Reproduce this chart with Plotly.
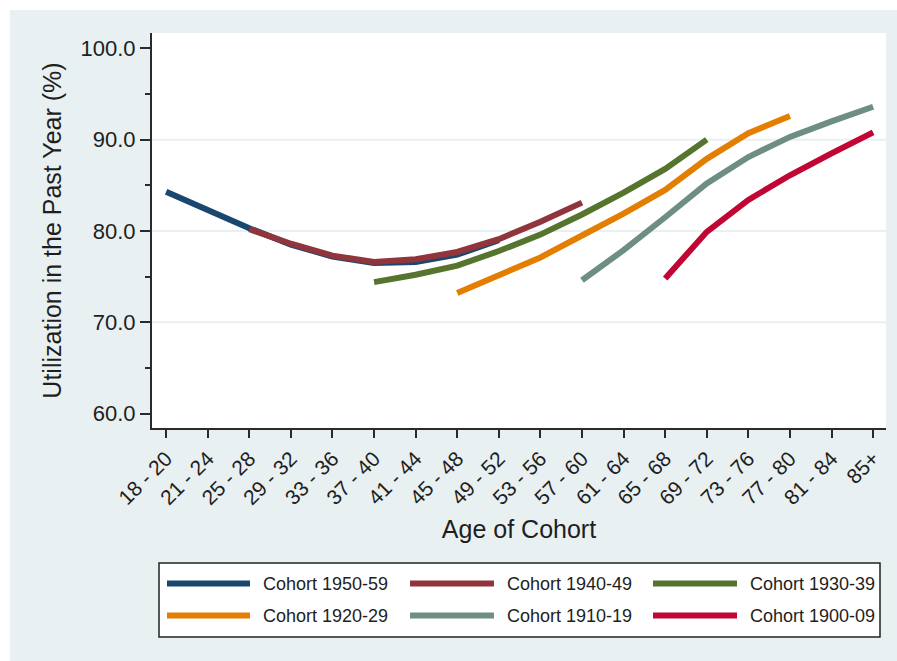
import plotly.graph_objects as go

# ---------------- data ----------------
AGE_GROUPS = ["18 - 20", "21 - 24", "25 - 28", "29 - 32", "33 - 36", "37 - 40",
              "41 - 44", "45 - 48", "49 - 52", "53 - 56", "57 - 60", "61 - 64",
              "65 - 68", "69 - 72", "73 - 76", "77 - 80", "81 - 84", "85+"]

COHORT_NAMES = ["Cohort 1950-59", "Cohort 1940-49", "Cohort 1930-39",
                "Cohort 1920-29", "Cohort 1910-19", "Cohort 1900-09"]

# first age group index of each cohort
COHORT_START = [0, 2, 5, 7, 10, 12]

cohort_1950_59 = [84.3, 82.3, 80.3, 78.5, 77.2, 76.5, 76.6, 77.4, 79.0]
cohort_1940_49 = [80.2, 78.6, 77.3, 76.6, 76.9, 77.7, 79.1, 81.0, 83.1]
cohort_1930_39 = [74.4, 75.2, 76.2, 77.8, 79.6, 81.8, 84.2, 86.8, 90.0]
cohort_1920_29 = [73.2, 75.1, 77.1, 79.5, 81.9, 84.5, 87.9, 90.7, 92.6]
cohort_1910_19 = [74.6, 77.9, 81.5, 85.2, 88.1, 90.3, 92.0, 93.6]
cohort_1900_09 = [74.8, 79.9, 83.4, 86.1, 88.5, 90.8]

COHORT_VALUES = [cohort_1950_59, cohort_1940_49, cohort_1930_39,
                 cohort_1920_29, cohort_1910_19, cohort_1900_09]

Y_TICKS = [60, 70, 80, 90, 100]
Y_MINOR = [65, 75, 85, 95]
GRID_VALUES = [70, 80, 90]

# ---------------- style ----------------
COLORS = ["#1A476F", "#90353B", "#55752F", "#E37E00", "#6E8E84", "#C10534"]
FONT = "Arial, 'Liberation Sans', Helvetica, sans-serif"
BG = "rgb(232,240,242)"
AXIS_COLOR = "#2a2a2a"
TEXT_COLOR = "#1e1e1e"

W, H = 897, 661
L, R, T, B = 152, 886, 33, 428


def px(x):
    return (x - L) / (R - L)


def py(y):
    return (B - y) / (B - T)


fig = go.Figure()

for name, start, vals, col in zip(COHORT_NAMES, COHORT_START, COHORT_VALUES, COLORS):
    fig.add_trace(go.Scatter(
        x=AGE_GROUPS[start:start + len(vals)],
        y=vals,
        mode="lines",
        name=name,
        line=dict(color=col, width=6),
        showlegend=False,
    ))

shapes = []
# outer white frame strips (top & left)
shapes.append(dict(type="rect", xref="paper", yref="paper",
                   x0=px(0), x1=px(W), y0=py(10), y1=py(0),
                   fillcolor="white", line=dict(width=0), layer="below"))
shapes.append(dict(type="rect", xref="paper", yref="paper",
                   x0=px(0), x1=px(10), y0=py(H), y1=py(0),
                   fillcolor="white", line=dict(width=0), layer="below"))
# gridlines
for g in GRID_VALUES:
    shapes.append(dict(type="line", xref="paper", yref="y",
                       x0=0, x1=1, y0=g, y1=g,
                       line=dict(color=BG, width=2), layer="below"))
# legend box
shapes.append(dict(type="rect", xref="paper", yref="paper",
                   x0=px(159), x1=px(880), y0=py(637), y1=py(563),
                   fillcolor="white", line=dict(color="#222", width=1.5)))

annotations = []
col_line_x = [(167, 250), (410, 494), (653, 737)]
col_text_x = [261, 505, 748]
row_y = [583.5, 615.5]
for i, (name, col) in enumerate(zip(COHORT_NAMES, COLORS)):
    r, c = divmod(i, 3)
    x0, x1 = col_line_x[c]
    shapes.append(dict(type="line", xref="paper", yref="paper",
                       x0=px(x0), x1=px(x1), y0=py(row_y[r]), y1=py(row_y[r]),
                       line=dict(color=col, width=6)))
    annotations.append(dict(xref="paper", yref="paper", x=px(col_text_x[c]),
                            y=py(row_y[r]), xanchor="left", yanchor="middle",
                            text=name, showarrow=False,
                            font=dict(family=FONT, size=18, color=TEXT_COLOR)))

fig.update_layout(
    width=W, height=H,
    margin=dict(l=L, r=W - R, t=T, b=H - B, pad=0),
    paper_bgcolor=BG,
    plot_bgcolor="white",
    font=dict(family=FONT, color=TEXT_COLOR),
    showlegend=False,
    shapes=shapes,
    annotations=annotations,
    xaxis=dict(
        type="category",
        categoryorder="array",
        categoryarray=AGE_GROUPS,
        range=[-0.34, 17.31],
        showgrid=False, zeroline=False,
        showline=True, linecolor=AXIS_COLOR, linewidth=2,
        ticks="outside", ticklen=8, tickwidth=2, tickcolor=AXIS_COLOR,
        tickangle=-45,
        tickfont=dict(family=FONT, size=21, color=TEXT_COLOR),
        title=dict(text="Age of Cohort", standoff=12,
                   font=dict(family=FONT, size=25, color=TEXT_COLOR)),
    ),
    yaxis=dict(
        range=[58.42, 101.68],
        tickmode="array",
        tickvals=Y_TICKS,
        ticktext=[f"{v:.1f}" for v in Y_TICKS],
        showgrid=False, zeroline=False,
        showline=True, linecolor=AXIS_COLOR, linewidth=2,
        ticks="outside", ticklen=10, tickwidth=2, tickcolor=AXIS_COLOR,
        tickfont=dict(family=FONT, size=22, color=TEXT_COLOR),
        minor=dict(tickmode="array", tickvals=Y_MINOR, ticks="outside",
                   ticklen=5, tickwidth=2, tickcolor=AXIS_COLOR, showgrid=False),
        title=dict(text="Utilization in the Past Year (%)", standoff=12,
                   font=dict(family=FONT, size=25, color=TEXT_COLOR)),
    ),
)

fig.write_html(
    "out.html",
    config={"displayModeBar": False},
    post_script=(
        "document.body.style.margin='0';"
        "document.body.style.overflow='hidden';"
        "document.body.style.background='rgb(232,240,242)';"
        "document.documentElement.style.background='rgb(232,240,242)';"
    ),
)
